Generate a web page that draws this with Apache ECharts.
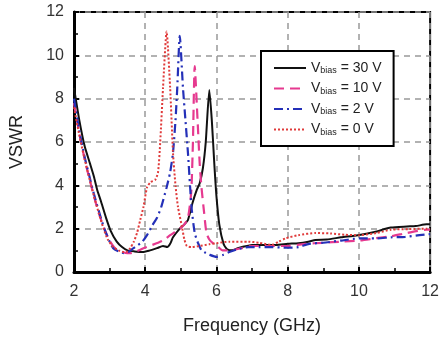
<!DOCTYPE html>
<html><head><meta charset="utf-8">
<script src="https://cdn.jsdelivr.net/npm/echarts@6/dist/echarts.min.js"></script>
<style>html,body{margin:0;padding:0;background:#fff;}#c{width:442px;height:341px;}</style>
</head><body><div id="c"></div>
<script>
var xTicks = [2, 4, 6, 8, 10, 12];
var yTicks = [0, 2, 4, 6, 8, 10, 12];
var seriesNames = ['30 V', '10 V', '2 V', '0 V'];
var v30 = [[2,8.5],[2.15,7.0],[2.3,5.8],[2.45,5.0],[2.56,4.4],[2.65,3.8],[2.75,3.3],[2.9,2.5],[3.03,1.9],[3.2,1.4],[3.35,1.15],[3.5,1.0],[3.7,0.95],[3.92,0.92],[4.1,0.98],[4.33,1.1],[4.5,1.2],[4.62,1.15],[4.7,1.3],[4.78,1.6],[4.97,2.0],[5.1,2.2],[5.2,2.4],[5.33,3.2],[5.45,3.8],[5.53,4.1],[5.62,4.8],[5.7,6.0],[5.8,8.4],[5.87,7.0],[5.94,5.0],[6.0,3.5],[6.08,2.2],[6.2,1.3],[6.3,1.05],[6.45,1.0],[6.6,1.1],[6.72,1.15],[7.0,1.25],[7.3,1.25],[7.67,1.25],[8.0,1.3],[8.3,1.33],[8.58,1.4],[8.78,1.48],[9.1,1.5],[9.5,1.6],[9.97,1.7],[10.44,1.85],[10.9,2.05],[11.35,2.1],[11.6,2.12],[11.9,2.2],[12,2.2]];
var v10 = [[2,7.8],[2.15,6.4],[2.3,5.2],[2.45,4.2],[2.56,3.5],[2.7,2.7],[2.85,2.0],[3.0,1.45],[3.15,1.1],[3.3,0.95],[3.45,0.88],[3.58,0.87],[3.75,0.95],[3.95,1.1],[4.2,1.25],[4.36,1.35],[4.5,1.45],[4.7,1.7],[4.97,2.0],[5.1,2.2],[5.2,2.5],[5.27,3.3],[5.3,3.9],[5.34,6.0],[5.39,9.5],[5.47,7.0],[5.53,5.0],[5.58,3.9],[5.65,2.8],[5.72,1.8],[5.8,1.5],[5.9,1.33],[6.05,1.15],[6.17,1.0],[6.4,1.0],[6.7,1.1],[7.0,1.2],[7.5,1.2],[8.0,1.2],[8.5,1.3],[9.0,1.35],[9.5,1.4],[10,1.45],[10.44,1.55],[10.9,1.65],[11.35,1.8],[11.9,1.95],[12,1.95]];
var v2 = [[2,8.0],[2.15,6.5],[2.3,5.3],[2.45,4.3],[2.56,3.6],[2.7,2.8],[2.85,2.0],[3.0,1.4],[3.1,1.1],[3.25,0.95],[3.4,0.87],[3.55,0.95],[3.67,1.1],[3.8,1.25],[3.92,1.4],[4.05,1.7],[4.2,2.15],[4.33,2.5],[4.45,3.0],[4.6,3.9],[4.7,4.6],[4.78,5.5],[4.85,7.0],[4.9,8.5],[4.97,10.9],[5.06,8.5],[5.13,7.0],[5.2,5.5],[5.3,3.0],[5.39,1.8],[5.48,1.35],[5.58,1.0],[5.7,0.88],[5.8,0.8],[6.0,0.7],[6.2,0.8],[6.36,0.92],[6.6,1.05],[6.9,1.15],[7.2,1.15],[7.55,1.15],[8.0,1.12],[8.3,1.15],[8.6,1.3],[9.0,1.35],[9.5,1.45],[10,1.55],[10.5,1.55],[10.9,1.6],[11.3,1.62],[11.7,1.7],[12,1.75]];
var v0 = [[2,7.6],[2.15,6.3],[2.3,5.2],[2.45,4.2],[2.56,3.5],[2.7,2.7],[2.83,2.0],[2.95,1.5],[3.1,1.15],[3.25,1.0],[3.4,0.92],[3.5,0.95],[3.58,1.1],[3.68,1.4],[3.77,1.8],[3.86,2.4],[3.95,3.0],[4.05,3.9],[4.15,4.15],[4.28,4.25],[4.36,4.6],[4.42,5.95],[4.5,8.5],[4.6,11.1],[4.7,8.5],[4.78,5.5],[4.85,4.0],[4.92,3.0],[5.03,2.1],[5.1,1.5],[5.17,1.2],[5.3,1.15],[5.53,1.2],[5.8,1.28],[6.0,1.33],[6.36,1.4],[6.9,1.4],[7.2,1.35],[7.55,1.25],[7.75,1.4],[7.94,1.55],[8.3,1.7],[8.78,1.8],[9.2,1.78],[9.6,1.72],[10,1.7],[10.5,1.8],[10.9,1.95],[11.4,1.98],[11.9,2.0],[12,2.0]];

var chart = echarts.init(document.getElementById('c'), null, {renderer: 'canvas'});
var FONT = 'Liberation Sans, Arial, sans-serif';
function mk(name, data, color, type, width) {
  return {name: name, type: 'line', data: data, symbol: 'none', smooth: 0.2,
    lineStyle: {color: color, type: type, width: width}, itemStyle: {color: color}, z: 3};
}
chart.setOption({
  animation: false,
  backgroundColor: '#fff',
  grid: {left: 73, right: 9, top: 12, bottom: 69, show: true, borderColor: '#000', borderWidth: 2},
  xAxis: {type: 'value', min: xTicks[0], max: xTicks[xTicks.length-1], interval: 2,
    name: 'Frequency (GHz)', nameLocation: 'middle', nameGap: 45,
    nameTextStyle: {fontFamily: FONT, fontSize: 18, color: '#222'},
    axisLine: {show: true, lineStyle: {color: '#000', width: 3}},
    axisTick: {show: true, inside: true, length: 5, lineStyle: {color: '#000', width: 2}},
    minorTick: {show: true, splitNumber: 2, length: 4, lineStyle: {color: '#000', width: 1.5}},
    axisLabel: {fontFamily: FONT, fontSize: 16, color: '#333', margin: 12},
    splitLine: {show: true, lineStyle: {color: '#999', type: [6, 5], width: 1.5}}},
  yAxis: {type: 'value', min: yTicks[0], max: yTicks[yTicks.length-1], interval: 2,
    name: 'VSWR', nameLocation: 'middle', nameGap: 48,
    nameTextStyle: {fontFamily: FONT, fontSize: 18, color: '#222'},
    axisLine: {show: true, lineStyle: {color: '#000', width: 3}},
    axisTick: {show: true, inside: true, length: 5, lineStyle: {color: '#000', width: 2}},
    minorTick: {show: true, splitNumber: 2, length: 4, lineStyle: {color: '#000', width: 1.5}},
    axisLabel: {fontFamily: FONT, fontSize: 16, color: '#333', margin: 10},
    splitLine: {show: true, lineStyle: {color: '#999', type: [6, 5], width: 1.5}}},
  legend: {
    orient: 'vertical', left: 261, top: 51, width: 133,
    padding: [10, 12, 9, 12], itemGap: 6, itemWidth: 32, itemHeight: 14,
    backgroundColor: '#fff', borderColor: '#000', borderWidth: 2,
    data: seriesNames,
    itemStyle: {opacity: 0},
    formatter: function (n) { return 'V{s|bias} = ' + n; },
    textStyle: {fontFamily: FONT, fontSize: 14, color: '#222',
      rich: {s: {fontFamily: FONT, fontSize: 9, color: '#222', verticalAlign: 'bottom', padding: [6, 0, 0, 0]}}}
  },
  series: [
    mk(seriesNames[0], v30, '#111111', 'solid', 2),
    mk(seriesNames[1], v10, '#e6398f', [10, 6], 2.2),
    mk(seriesNames[2], v2, '#2430b8', [9, 4, 2, 4], 2.2),
    mk(seriesNames[3], v0, '#e03a3a', [2, 2], 2)
  ]
});
</script></body></html>
